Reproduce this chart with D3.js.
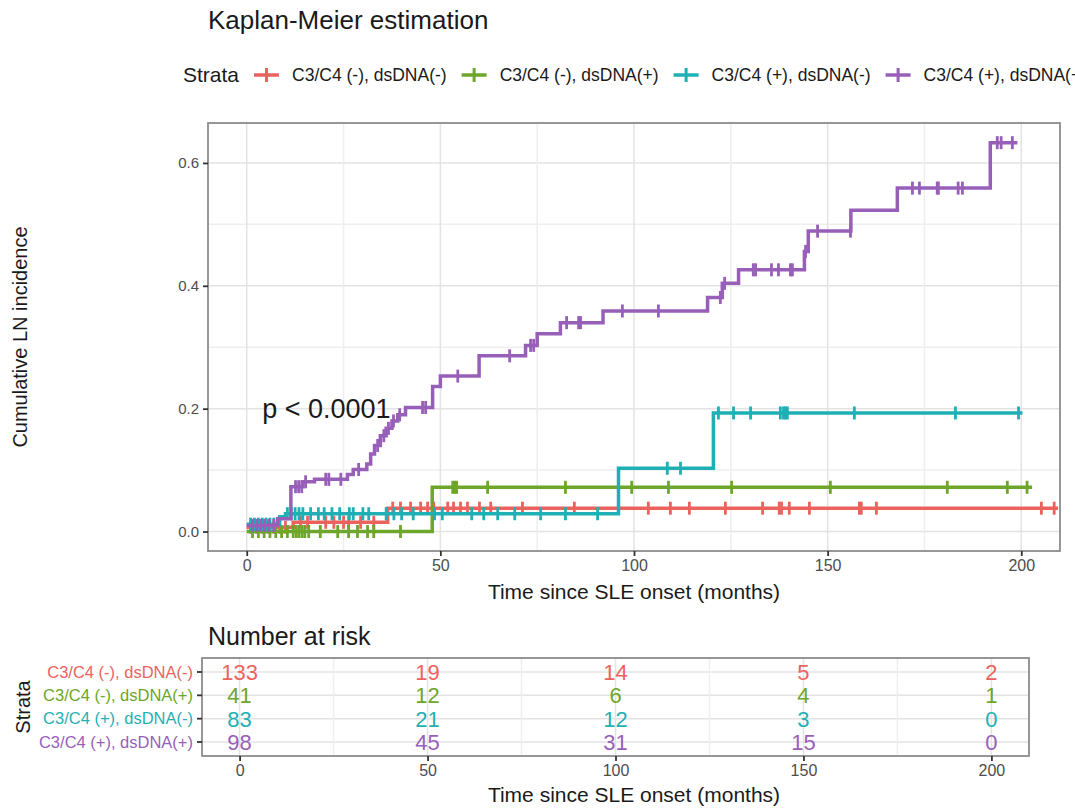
<!DOCTYPE html>
<html>
<head>
<meta charset="utf-8">
<script src="https://cdn.jsdelivr.net/npm/d3@7"></script>
<style>
  body { margin: 0; background: #fff; }
  text { font-family: "Liberation Sans", Arial, sans-serif; }
</style>
</head>
<body>
<div id="chart"></div>
<script>
// Strata names and colours
var strata = ["C3/C4 (-), dsDNA(-)", "C3/C4 (-), dsDNA(+)", "C3/C4 (+), dsDNA(-)", "C3/C4 (+), dsDNA(+)"];
var colors = ["#EC635E", "#6DA62A", "#1FAFB4", "#985FB9"];

// Step events (time in months, cumulative incidence)
var redTimes = [0, 12, 36.4];
var redInc = [0.007, 0.015, 0.038];
var redEnd = 209.5;
var redCensor = [1, 2.5, 4, 5.5, 7, 8.5, 10, 13.9, 15.7, 20.4, 22.5, 25, 26.3, 29.4, 32.8, 37.7, 39.7, 42.3, 44.9,
  46.7, 48.3, 51.9, 53.4, 55.2, 57, 60.1, 63, 71.2, 84.6, 103.7, 109.4, 114.3, 123.6, 133.2, 137.5, 138.1,
  140.1, 145.3, 158.2, 158.7, 162.6, 205.2, 208.5];

var greenTimes = [0, 47.9];
var greenInc = [0, 0.072];
var greenEnd = 202.8;
var greenCensor = [1.5, 3, 4.5, 6, 7.5, 9, 10.5, 12, 12.8, 13.5, 14.3, 15, 16, 19, 23.5, 26.3, 28.6, 31.2, 32.8,
  39.7, 53.2, 53.7, 54.2, 62.2, 82.3, 99.4, 108.9, 125.2, 150.7, 180.9, 196.4, 201.5];

var tealTimes = [0, 8.5, 10, 96, 120.5];
var tealInc = [0.012, 0.024, 0.029, 0.103, 0.193];
var tealEnd = 200.3;
var tealCensor = [1, 2, 3, 4, 5, 6, 7, 10.5, 11.5, 12.5, 13.5, 14.5, 16.5, 18.5, 20, 22, 24, 26.5, 27.5, 30, 31.5,
  36, 38, 40, 43, 48.5, 50.5, 58.1, 61.2, 64.8, 69.2, 75.9, 82.3, 90.6, 108.6, 112, 121.8, 125.7, 130.1,
  137.8, 138.6, 139.1, 139.6, 156.9, 183, 199.3];

var purpleTimes = [0, 8, 11.4, 14.5, 17.5, 26, 27.5, 31, 32, 33, 34.5, 36, 37.5, 39, 41, 48, 50, 60, 72, 75, 81,
  92, 119, 122.8, 127, 144, 145, 156, 168, 192];
var purpleInc = [0.010, 0.021, 0.073, 0.081, 0.085, 0.093, 0.101, 0.110, 0.126, 0.140, 0.156, 0.168, 0.180, 0.190,
  0.202, 0.236, 0.253, 0.286, 0.303, 0.322, 0.340, 0.359, 0.381, 0.404, 0.426, 0.456, 0.489, 0.523, 0.559, 0.633];
var purpleEnd = 199;
var purpleCensor = [1.5, 2.6, 3.6, 4.6, 5.7, 7, 12.6, 13.4, 14.2, 15.2, 20.4, 21.2, 24.3, 28.9, 33.8, 35.4, 36.6,
  37.9, 39.5, 45.4, 46.2, 54.5, 67.9, 73.3, 74.1, 82.6, 85.7, 86.2, 97, 106.3, 122.3, 123.4, 130.8, 131.4,
  135.5, 137.3, 140.4, 140.9, 144.3, 147.4, 155.9, 171.9, 173.7, 178.3, 178.6, 183.7, 184.8, 193.8, 194.8, 197.7];

// Number at risk table
var riskTimes = [0, 50, 100, 150, 200];
var riskRed = [133, 19, 14, 5, 2];
var riskGreen = [41, 12, 6, 4, 1];
var riskTeal = [83, 21, 12, 3, 0];
var riskPurple = [98, 45, 31, 15, 0];

var xTicks = [0, 50, 100, 150, 200];
var yTicks = [0, 0.2, 0.4, 0.6];

var curves = [
  { times: redTimes, inc: redInc, end: redEnd, censor: redCensor },
  { times: greenTimes, inc: greenInc, end: greenEnd, censor: greenCensor },
  { times: tealTimes, inc: tealInc, end: tealEnd, censor: tealCensor },
  { times: purpleTimes, inc: purpleInc, end: purpleEnd, censor: purpleCensor }
];
var riskCounts = [riskRed, riskGreen, riskTeal, riskPurple];

var width = 1075;
var height = 809;
var panel = { left: 208, right: 1060, top: 123, bottom: 551 };
var riskPanel = { left: 202, right: 1029, top: 658, bottom: 756 };
var font = "Liberation Sans, Arial, sans-serif";

var svg = d3.select("#chart")
  .append("svg")
  .attr("width", width)
  .attr("height", height)
  .style("display", "block");

svg.append("rect").attr("width", width).attr("height", height).attr("fill", "#fff");

// Scales for the main plot
var x = d3.scaleLinear().domain([-10, 210]).range([panel.left, panel.right]);
var y = d3.scaleLinear().domain([-0.0317, 0.665]).range([panel.bottom, panel.top]);

// Title
svg.append("text")
  .attr("x", panel.left)
  .attr("y", 29)
  .style("font-size", "26px")
  .attr("fill", "#1a1a1a")
  .text("Kaplan-Meier estimation");

// Legend
var legend = svg.append("g").attr("transform", "translate(183,75)");
var lx = 0;
var lt = legend.append("text")
  .attr("x", lx).attr("dy", "0.35em")
  .style("font-size", "21px")
  .attr("fill", "#1a1a1a")
  .text("Strata");
lx += lt.node().getComputedTextLength() + 15;
strata.forEach(function (s, i) {
  legend.append("line")
    .attr("x1", lx).attr("x2", lx + 25).attr("y1", 0).attr("y2", 0)
    .attr("stroke", colors[i]).attr("stroke-width", 3.5);
  legend.append("line")
    .attr("x1", lx + 12.5).attr("x2", lx + 12.5).attr("y1", -7).attr("y2", 7)
    .attr("stroke", colors[i]).attr("stroke-width", 3);
  lx += 38;
  var t = legend.append("text")
    .attr("x", lx).attr("dy", "0.35em")
    .style("font-size", "17.5px")
    .attr("fill", "#1a1a1a")
    .text(s);
  lx += t.node().getComputedTextLength() + 15;
});

// Grid lines
var grid = svg.append("g");
d3.range(-0.1, 0.7, 0.1).forEach(function (v) {
  var yy = y(v);
  if (yy < panel.top || yy > panel.bottom) return;
  grid.append("line")
    .attr("x1", panel.left).attr("x2", panel.right).attr("y1", yy).attr("y2", yy)
    .attr("stroke", Math.round(v * 10) % 2 === 0 ? "#e3e3e3" : "#eeeeee").attr("stroke-width", 1.5);
});
d3.range(0, 225, 25).forEach(function (v) {
  grid.append("line")
    .attr("x1", x(v)).attr("x2", x(v)).attr("y1", panel.top).attr("y2", panel.bottom)
    .attr("stroke", v % 50 === 0 ? "#e3e3e3" : "#eeeeee").attr("stroke-width", 1.5);
});

// Clip for the curves
svg.append("clipPath").attr("id", "clip")
  .append("rect")
  .attr("x", panel.left).attr("y", panel.top)
  .attr("width", panel.right - panel.left).attr("height", panel.bottom - panel.top);

// Step value at a given time
function stepValue(c, t) {
  var v = c.inc[0];
  for (var i = 0; i < c.times.length; i++) {
    if (c.times[i] <= t) v = c.inc[i];
  }
  return v;
}

var line = d3.line()
  .x(function (d) { return x(d[0]); })
  .y(function (d) { return y(d[1]); })
  .curve(d3.curveStepAfter);

var plot = svg.append("g").attr("clip-path", "url(#clip)");
curves.forEach(function (c, i) {
  var pts = c.times.map(function (t, j) { return [t, c.inc[j]]; });
  pts.push([c.end, c.inc[c.inc.length - 1]]);
  plot.append("path")
    .attr("d", line(pts))
    .attr("fill", "none")
    .attr("stroke", colors[i])
    .attr("stroke-width", 3.5);
  plot.selectAll(null)
    .data(c.censor)
    .enter()
    .append("line")
    .attr("x1", function (d) { return x(d); })
    .attr("x2", function (d) { return x(d); })
    .attr("y1", function (d) { return y(stepValue(c, d)) - 6.5; })
    .attr("y2", function (d) { return y(stepValue(c, d)) + 6.5; })
    .attr("stroke", colors[i])
    .attr("stroke-width", 2.8);
});

// p value
svg.append("text")
  .attr("x", x(4))
  .attr("y", y(0.2))
  .attr("dy", "0.35em")
  .style("font-size", "27px")
  .attr("fill", "#1a1a1a")
  .text("p < 0.0001");

// Panel border
svg.append("rect")
  .attr("x", panel.left).attr("y", panel.top)
  .attr("width", panel.right - panel.left).attr("height", panel.bottom - panel.top)
  .attr("fill", "none").attr("stroke", "#8c8c8c").attr("stroke-width", 1.8);

// Axes
var xAxis = svg.append("g")
  .attr("transform", "translate(0," + panel.bottom + ")")
  .call(d3.axisBottom(x).tickValues(xTicks).tickSize(5).tickPadding(4).tickFormat(d3.format("d")));
xAxis.select(".domain").remove();
xAxis.selectAll("line").attr("stroke", "#333").attr("stroke-width", 1.8);
xAxis.selectAll("text").style("font-size", "16px").attr("fill", "#4d4d4d").style("font-family", font);

var yAxis = svg.append("g")
  .attr("transform", "translate(" + panel.left + ",0)")
  .call(d3.axisLeft(y).tickValues(yTicks).tickSize(5).tickPadding(4).tickFormat(d3.format(".1f")));
yAxis.select(".domain").remove();
yAxis.selectAll("line").attr("stroke", "#333").attr("stroke-width", 1.8);
yAxis.selectAll("text").style("font-size", "15px").attr("fill", "#4d4d4d").style("font-family", font);

var titleX = (x(0) + x(200)) / 2;
svg.append("text")
  .attr("x", titleX)
  .attr("y", 599)
  .attr("text-anchor", "middle")
  .style("font-size", "21px")
  .attr("fill", "#1a1a1a")
  .text("Time since SLE onset (months)");

svg.append("text")
  .attr("transform", "translate(27," + (panel.top + panel.bottom) / 2 + ") rotate(-90)")
  .attr("text-anchor", "middle")
  .style("font-size", "20px")
  .attr("fill", "#1a1a1a")
  .text("Cumulative LN incidence");

// ---- Number at risk table ----
var rx = d3.scaleLinear().domain([-10, 210]).range([riskPanel.left, riskPanel.right]);
var ry = d3.scaleLinear().domain([0.4, 4.6]).range([riskPanel.top, riskPanel.bottom]);

svg.append("text")
  .attr("x", 208)
  .attr("y", 645)
  .style("font-size", "25px")
  .attr("fill", "#1a1a1a")
  .text("Number at risk");

var rgrid = svg.append("g");
[1, 2, 3, 4].forEach(function (r) {
  rgrid.append("line")
    .attr("x1", riskPanel.left).attr("x2", riskPanel.right).attr("y1", ry(r)).attr("y2", ry(r))
    .attr("stroke", "#e3e3e3").attr("stroke-width", 1.5);
});
d3.range(0, 225, 25).forEach(function (v) {
  rgrid.append("line")
    .attr("x1", rx(v)).attr("x2", rx(v)).attr("y1", riskPanel.top).attr("y2", riskPanel.bottom)
    .attr("stroke", v % 50 === 0 ? "#e3e3e3" : "#eeeeee").attr("stroke-width", 1.5);
});

riskCounts.forEach(function (counts, i) {
  svg.selectAll(null)
    .data(counts)
    .enter()
    .append("text")
    .attr("x", function (d, j) { return rx(riskTimes[j]); })
    .attr("y", ry(i + 1))
    .attr("dy", "0.36em")
    .attr("text-anchor", "middle")
    .style("font-size", "22px")
    .attr("fill", colors[i])
    .text(function (d) { return d; });
});

svg.append("rect")
  .attr("x", riskPanel.left).attr("y", riskPanel.top)
  .attr("width", riskPanel.right - riskPanel.left).attr("height", riskPanel.bottom - riskPanel.top)
  .attr("fill", "none").attr("stroke", "#8c8c8c").attr("stroke-width", 1.8);

var rxAxis = svg.append("g")
  .attr("transform", "translate(0," + riskPanel.bottom + ")")
  .call(d3.axisBottom(rx).tickValues(riskTimes).tickSize(5).tickPadding(4).tickFormat(d3.format("d")));
rxAxis.select(".domain").remove();
rxAxis.selectAll("line").attr("stroke", "#333").attr("stroke-width", 1.8);
rxAxis.selectAll("text").style("font-size", "16px").attr("fill", "#4d4d4d").style("font-family", font);

// Row labels
strata.forEach(function (s, i) {
  svg.append("line")
    .attr("x1", riskPanel.left - 5).attr("x2", riskPanel.left).attr("y1", ry(i + 1)).attr("y2", ry(i + 1))
    .attr("stroke", "#333").attr("stroke-width", 1.8);
  svg.append("text")
    .attr("x", riskPanel.left - 9)
    .attr("y", ry(i + 1))
    .attr("dy", "0.35em")
    .attr("text-anchor", "end")
    .style("font-size", "16.5px")
    .attr("fill", colors[i])
    .text(s);
});

svg.append("text")
  .attr("x", titleX)
  .attr("y", 802)
  .attr("text-anchor", "middle")
  .style("font-size", "21px")
  .attr("fill", "#1a1a1a")
  .text("Time since SLE onset (months)");

svg.append("text")
  .attr("transform", "translate(30," + (riskPanel.top + riskPanel.bottom) / 2 + ") rotate(-90)")
  .attr("text-anchor", "middle")
  .style("font-size", "20px")
  .attr("fill", "#1a1a1a")
  .text("Strata");
</script>
</body>
</html>
